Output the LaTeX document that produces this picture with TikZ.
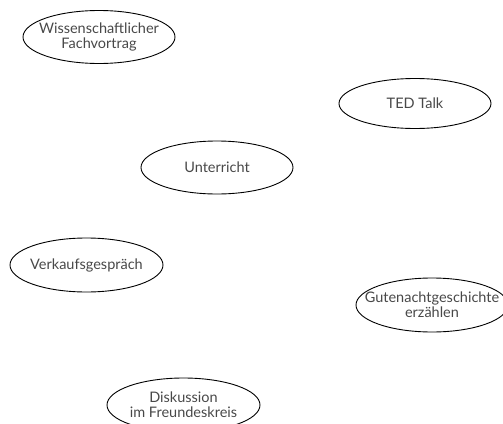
\documentclass[tikz,border=0pt]{standalone}
\usepackage{fontspec}
\setmainfont{Lato}
\usetikzlibrary{shapes.geometric}
\definecolor{txt}{HTML}{484848}
\tikzset{
  oval/.style={ellipse, draw=black, line width=0.9pt, minimum width=152pt, minimum height=53pt, inner sep=0pt},
  lbl/.style={inner sep=0pt, align=center, text=txt, font=\fontsize{14.5}{15}\selectfont}
}
\begin{document}
\begin{tikzpicture}[x=1pt,y=-1pt]
\useasboundingbox (0,0) rectangle (503,423);
\node[oval] (wiss) at (99,37) {};
\node[lbl] (wisst) at (wiss.center) {Wissenschaftlicher\\Fachvortrag};
\node[oval, minimum height=50pt] (ted) at (415,103.5) {};
\node[lbl] (tedt) at (ted.center) {TED Talk};
\node[oval] (unt) at (217,167.5) {};
\node[lbl] (untt) at (unt.center) {Unterricht};
\node[oval, minimum width=153pt, minimum height=54pt] (verk) at (86.5,265) {};
\node[lbl] (verkt) at (verk.center) {Verkaufsgespräch};
\node[oval, minimum height=54pt] (gute) at (432,305) {};
\node[lbl] (gutet) at (gute.center) {Gutenachtgeschichte\\erzählen};
\node[oval, minimum width=153pt, minimum height=54pt] (disk) at (183.5,405) {};
\node[lbl] (diskt) at (disk.center) {Diskussion\\im Freundeskreis};
\end{tikzpicture}
\end{document}
